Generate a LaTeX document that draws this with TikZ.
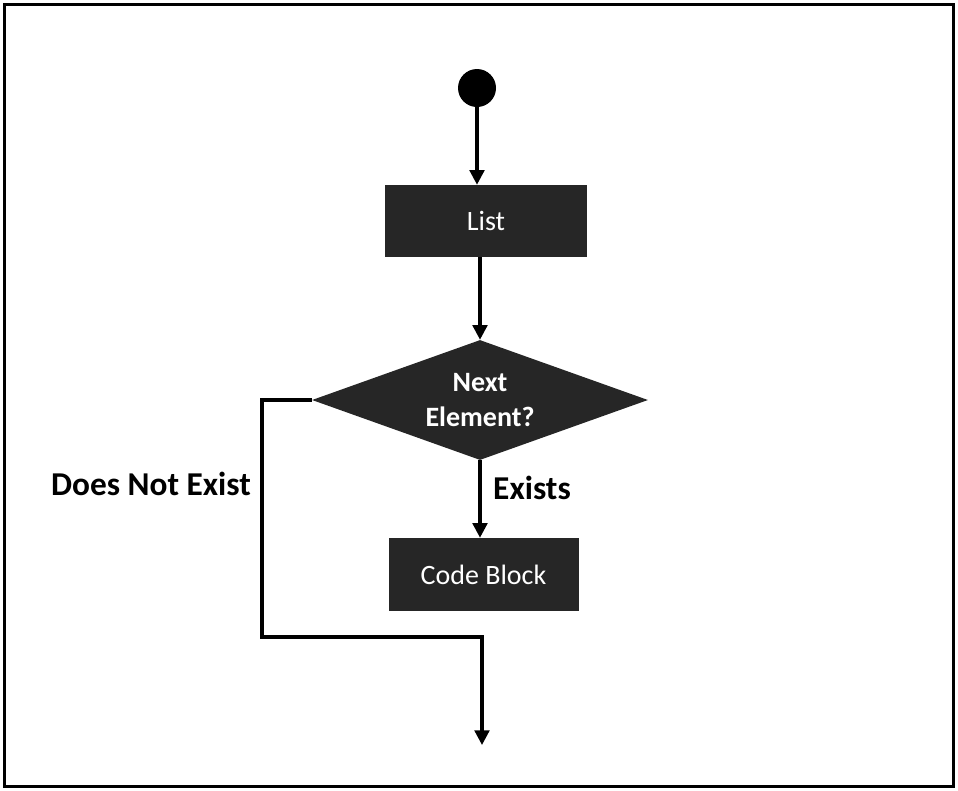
\documentclass[tikz,border=0pt]{standalone}
\usepackage{fontspec}
\setmainfont{Carlito}
\usetikzlibrary{shapes.geometric,arrows.meta}
\definecolor{boxfill}{HTML}{262626}
\begin{document}
\begin{tikzpicture}[x=0.75pt,y=-0.75pt,
  flow/.style={line width=2.4pt,-{Triangle[width=11pt,length=11pt]}},
  blockbox/.style={rectangle,fill=boxfill,text=white,inner sep=0pt,font=\fontsize{21}{25}\selectfont},
  decision/.style={diamond,shape aspect=2.8,fill=boxfill,text=white,inner sep=0pt,align=center,font=\bfseries\fontsize{21}{26}\selectfont},
  caption/.style={font=\bfseries\fontsize{25}{30}\selectfont,inner sep=0pt}]
  \useasboundingbox (0,0) rectangle (958,790);
  \draw[line width=2.6pt] (4.5,4.5) rectangle (953.5,786.5);

  \node[circle,fill=black,minimum size=28.5pt,inner sep=0pt] (start) at (477,88) {};
  \node[blockbox,minimum width=151.5pt,minimum height=54pt] (list) at (486,221) {List};
  \node[decision,minimum width=252pt,minimum height=90pt] (next) at (480,400) {Next\\Element?};
  \node[blockbox,minimum width=142.5pt,minimum height=54.75pt] (code) at (483.5,574.5) {Code Block};

  % route of the "Does Not Exist" branch around the code block
  \coordinate (lt) at (262,400);
  \coordinate (lb) at (262,637);
  \coordinate (rb) at (482,637);
  \coordinate (endp) at (482,745);

  \draw[flow] (start) -- (start |- list.north);
  \draw[flow] (list.south -| next.north) -- (next.north);
  \draw[flow] (next.south) -- (code.north -| next.south);
  \draw[flow] (next.west) -- (lt) -- (lb) -- (rb) -- (endp);

  \node[caption] (dne) at (151,484) {Does Not Exist};
  \node[caption] (ex) at (532,488) {Exists};
\end{tikzpicture}
\end{document}
